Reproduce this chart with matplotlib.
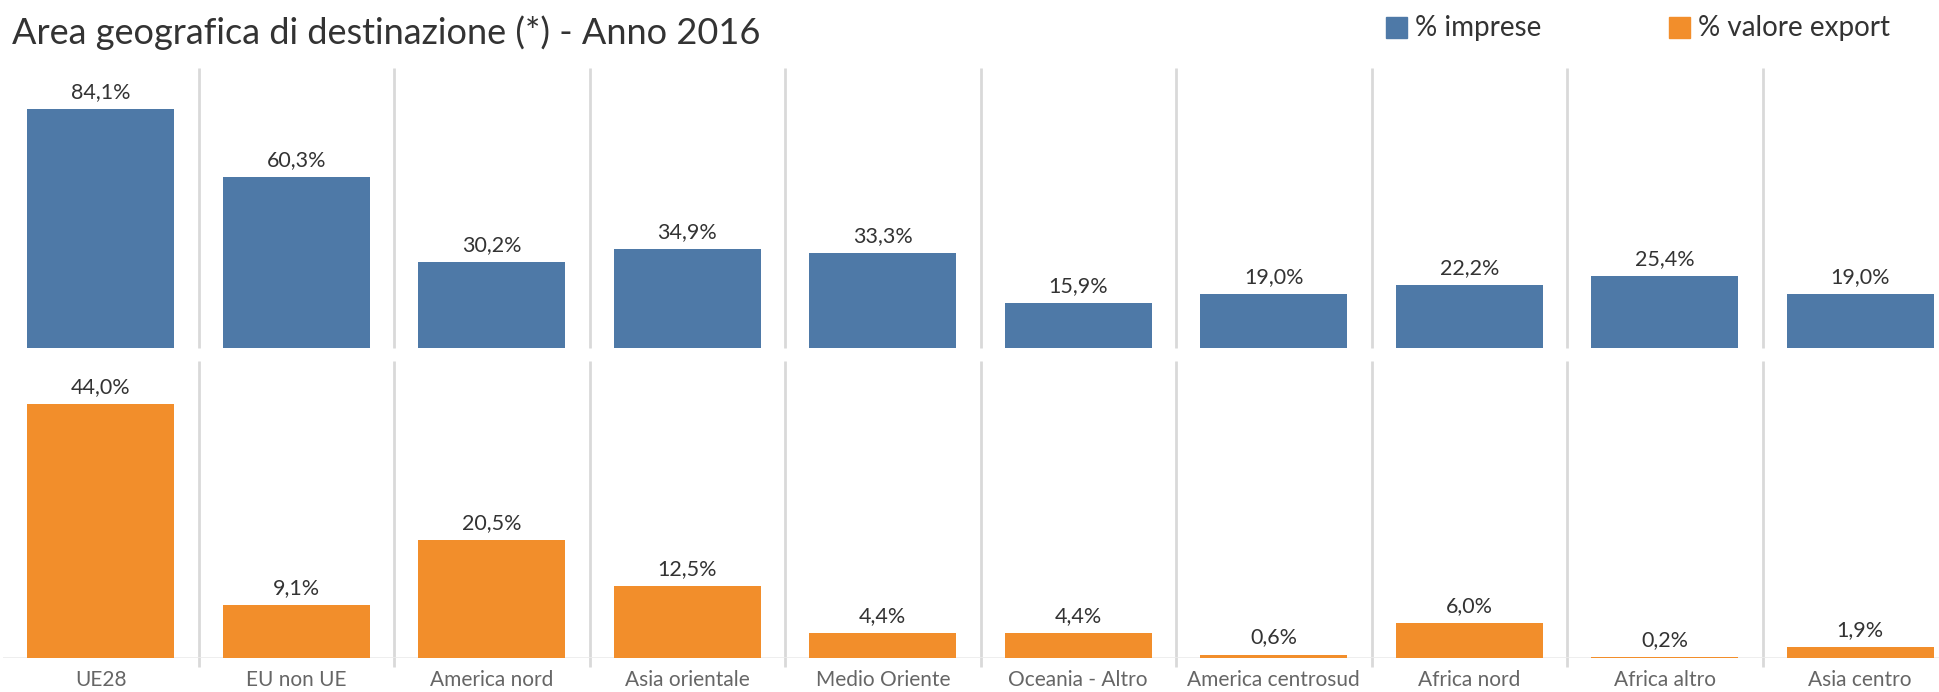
import matplotlib
matplotlib.use("Agg")
import matplotlib.pyplot as plt
from matplotlib.patches import Rectangle

# data
aree = ["UE28", "EU non UE", "America nord", "Asia orientale", "Medio Oriente",
        "Oceania - Altro", "America centrosud", "Africa nord", "Africa altro", "Asia centro"]
perc_imprese = [84.1, 60.3, 30.2, 34.9, 33.3, 15.9, 19.0, 22.2, 25.4, 19.0]
perc_export = [44.0, 9.1, 20.5, 12.5, 4.4, 4.4, 0.6, 6.0, 0.2, 1.9]

titolo = "Area geografica di destinazione (*) - Anno 2016"
legenda = ["% imprese", "% valore export"]

blu = "#4e79a7"
arancio = "#f28e2b"
grigio_sep = "#d9d9d9"

plt.rcParams['font.family'] = ['Lato', 'DejaVu Sans']

W, H = 1939, 692
fig = plt.figure(figsize=(W / 100, H / 100), dpi=100)

def px_box(x0, y0, x1, y1):
    # pixel box (top-left origin) -> figure fraction
    return [x0 / W, 1 - y1 / H, (x1 - x0) / W, (y1 - y0) / H]

ax_top = fig.add_axes(px_box(3, 68, 1958, 348))
ax_bot = fig.add_axes(px_box(3, 361, 1958, 658))

def fmt(v):
    return f"{v:.1f}%".replace(".", ",")

pannelli = [(ax_top, perc_imprese, blu, 98.6), (ax_bot, perc_export, arancio, 51.4)]
for ax, vals, col, ymax in pannelli:
    x = list(range(len(aree)))
    ax.bar(x, vals, width=0.75, color=col, zorder=2)
    ax.set_xlim(-0.5, len(aree) - 0.5)
    ax.set_ylim(0, ymax)
    for xi, v in zip(x, vals):
        ax.annotate(fmt(v), (xi, v), xytext=(0, 5), textcoords="offset points",
                    ha="center", va="bottom", fontsize=15.5, color="#333333")
    for s in ax.spines.values():
        s.set_visible(False)
    ax.set_yticks([])
    ext = -1.5 if ax is ax_bot else 0
    ax.vlines([i + 0.5 for i in range(len(aree) - 1)], ext, ymax,
              colors=grigio_sep, linewidth=2, clip_on=False, zorder=1)

ax_top.set_xticks([])
ax_bot.axhline(0, color="#ebebeb", linewidth=1.2, zorder=1)
ax_bot.set_xticks(range(len(aree)))
ax_bot.set_xticklabels(aree, fontsize=15, color="#666666")
ax_bot.tick_params(axis="x", length=0, pad=9)

fig.text(12 / W, 1 - 33 / H, titolo, fontsize=26, color="#333333", va="center", ha="left")

# legend
for (x0, txt, col) in [(1386, legenda[0], blu), (1669, legenda[1], arancio)]:
    fig.patches.append(Rectangle((x0 / W, 1 - 38 / H), 21 / W, 21 / H,
                                 transform=fig.transFigure, color=col))
    fig.text((x0 + 29) / W, 1 - 28 / H, txt, fontsize=20, color="#333333",
             va="center", ha="left")

fig.savefig("out.png", dpi=100)
